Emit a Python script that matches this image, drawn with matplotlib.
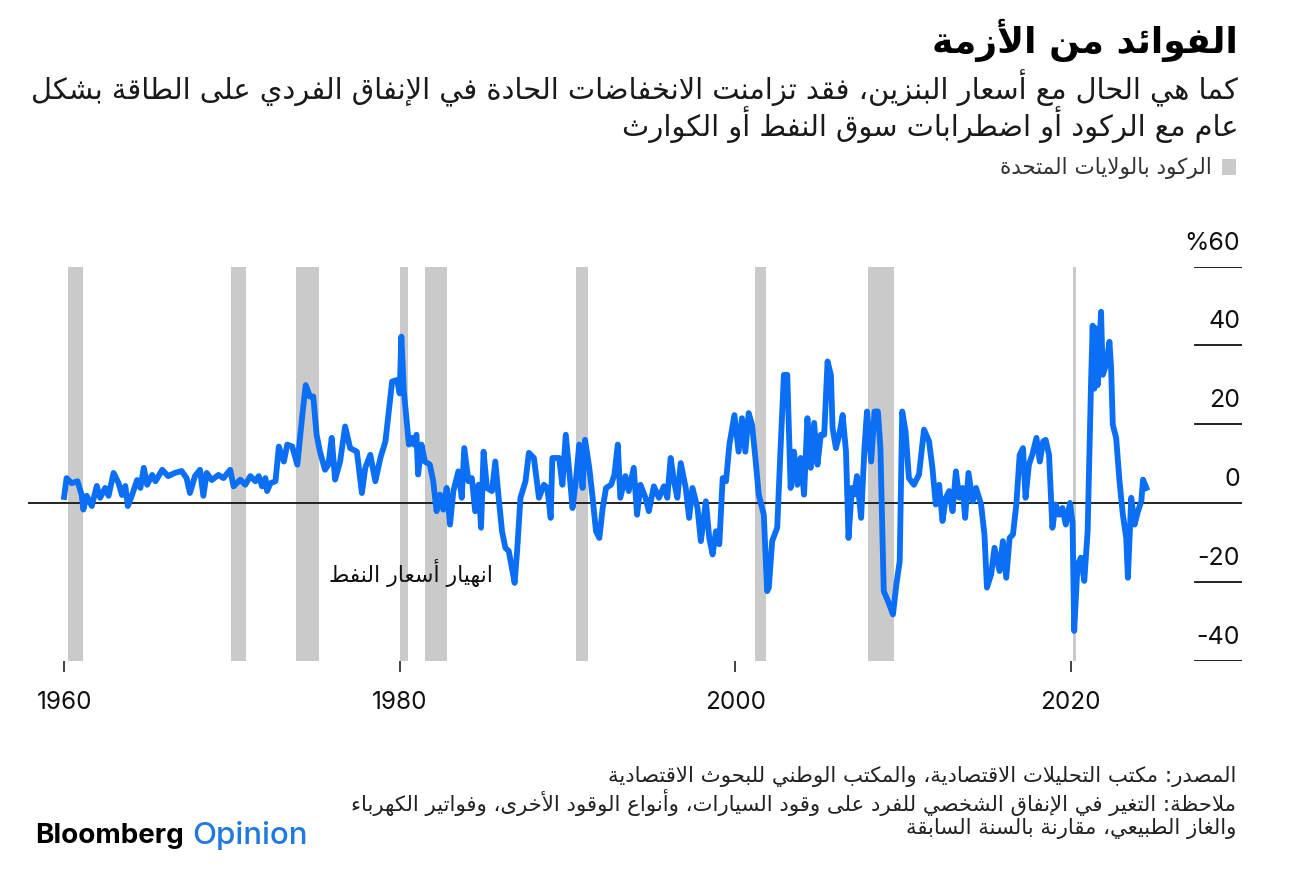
import matplotlib
matplotlib.use("Agg")
import matplotlib.pyplot as plt
from matplotlib.patches import Rectangle
import matplotlib.transforms as mtransforms

# --- minimal arabic shaping (presentation forms + right-to-left order) ---
FORMS = {
    'ء': (0xFE80, 1), 'آ': (0xFE81, 2), 'أ': (0xFE83, 2), 'ؤ': (0xFE85, 2), 'إ': (0xFE87, 2),
    'ئ': (0xFE89, 4), 'ا': (0xFE8D, 2), 'ب': (0xFE8F, 4), 'ة': (0xFE93, 2), 'ت': (0xFE95, 4),
    'ث': (0xFE99, 4), 'ج': (0xFE9D, 4), 'ح': (0xFEA1, 4), 'خ': (0xFEA5, 4), 'د': (0xFEA9, 2),
    'ذ': (0xFEAB, 2), 'ر': (0xFEAD, 2), 'ز': (0xFEAF, 2), 'س': (0xFEB1, 4), 'ش': (0xFEB5, 4),
    'ص': (0xFEB9, 4), 'ض': (0xFEBD, 4), 'ط': (0xFEC1, 4), 'ظ': (0xFEC5, 4), 'ع': (0xFEC9, 4),
    'غ': (0xFECD, 4), 'ف': (0xFED1, 4), 'ق': (0xFED5, 4), 'ك': (0xFED9, 4), 'ل': (0xFEDD, 4),
    'م': (0xFEE1, 4), 'ن': (0xFEE5, 4), 'ه': (0xFEE9, 4), 'و': (0xFEED, 2), 'ى': (0xFEEF, 2),
    'ي': (0xFEF1, 4),
    '\uFEF5': (0xFEF5, 2), '\uFEF7': (0xFEF7, 2), '\uFEF9': (0xFEF9, 2), '\uFEFB': (0xFEFB, 2),
}
LAM_ALEF = {'آ': '\uFEF5', 'أ': '\uFEF7', 'إ': '\uFEF9', 'ا': '\uFEFB'}


def ar(text):
    s = ''
    i = 0
    while i < len(text):
        if text[i] == 'ل' and i + 1 < len(text) and text[i + 1] in LAM_ALEF:
            s += LAM_ALEF[text[i + 1]]
            i += 2
        else:
            s += text[i]
            i += 1
    out = []
    for i, c in enumerate(s):
        if c not in FORMS:
            out.append(c)
            continue
        base, n = FORMS[c]
        prev = s[i - 1] if i > 0 else ''
        nxt = s[i + 1] if i + 1 < len(s) else ''
        join_prev = prev in FORMS and FORMS[prev][1] == 4
        join_next = n == 4 and nxt in FORMS and FORMS[nxt][1] > 1
        if n == 1:
            form = 0
        elif join_prev and join_next:
            form = 3
        elif join_next:
            form = 2
        elif join_prev:
            form = 1
        else:
            form = 0
        out.append(chr(base + form))
    return ''.join(reversed(out))


# --- data ---
years = [
    1960.0, 1960.15, 1960.45, 1960.8, 1961.05, 1961.15, 1961.35, 1961.65, 1961.95, 1962.15,
    1962.45, 1962.65, 1962.95, 1963.25, 1963.45, 1963.65, 1963.8, 1964.05, 1964.35, 1964.55,
    1964.75, 1964.95, 1965.25, 1965.45, 1965.85, 1966.2, 1966.6, 1967.0, 1967.3, 1967.5,
    1967.8, 1968.1, 1968.3, 1968.5, 1968.8, 1969.2, 1969.5, 1969.9, 1970.1, 1970.5,
    1970.8, 1971.1, 1971.4, 1971.6, 1971.8, 1972.0, 1972.1, 1972.3, 1972.6, 1972.8,
    1973.1, 1973.3, 1973.6, 1973.9, 1974.2, 1974.4, 1974.65, 1974.85, 1975.05, 1975.25,
    1975.55, 1975.75, 1975.95, 1976.15, 1976.45, 1976.75, 1977.05, 1977.45, 1977.75, 1977.95,
    1978.25, 1978.55, 1978.85, 1979.15, 1979.55, 1979.85, 1980.0, 1980.1, 1980.25, 1980.55,
    1980.75, 1980.85, 1981.0, 1981.1, 1981.3, 1981.5, 1981.8, 1982.0, 1982.2, 1982.4,
    1982.6, 1982.8, 1983.0, 1983.2, 1983.5, 1983.7, 1983.85, 1984.1, 1984.3, 1984.5,
    1984.7, 1984.85, 1985.0, 1985.2, 1985.5, 1985.7, 1985.9, 1986.1, 1986.3, 1986.5,
    1986.65, 1986.85, 1987.0, 1987.2, 1987.5, 1987.7, 1988.0, 1988.3, 1988.6, 1988.8,
    1989.0, 1989.1, 1989.5, 1989.7, 1989.9, 1990.2, 1990.3, 1990.5, 1990.7, 1990.9,
    1991.05, 1991.3, 1991.5, 1991.7, 1991.9, 1992.1, 1992.3, 1992.6, 1992.8, 1993.0,
    1993.15, 1993.45, 1993.65, 1993.95, 1994.15, 1994.35, 1994.65, 1994.85, 1995.15, 1995.45,
    1995.75, 1995.95, 1996.15, 1996.35, 1996.55, 1996.75, 1997.05, 1997.25, 1997.45, 1997.75,
    1997.95, 1998.25, 1998.45, 1998.65, 1998.85, 1999.05, 1999.25, 1999.45, 1999.65, 1999.95,
    2000.2, 2000.4, 2000.6, 2000.8, 2001.0, 2001.2, 2001.4, 2001.7, 2001.9, 2002.0,
    2002.2, 2002.5, 2002.7, 2002.9, 2003.1, 2003.3, 2003.5, 2003.7, 2003.9, 2004.1,
    2004.3, 2004.5, 2004.7, 2004.9, 2005.1, 2005.3, 2005.5, 2005.7, 2005.8, 2006.0,
    2006.2, 2006.4, 2006.6, 2006.75, 2006.95, 2007.1, 2007.25, 2007.5, 2007.7, 2007.85,
    2008.1, 2008.3, 2008.5, 2008.65, 2008.85, 2009.1, 2009.4, 2009.6, 2009.8, 2009.95,
    2010.15, 2010.35, 2010.65, 2010.95, 2011.25, 2011.55, 2011.75, 2011.95, 2012.15, 2012.35,
    2012.55, 2012.75, 2012.95, 2013.15, 2013.35, 2013.55, 2013.7, 2013.9, 2014.15, 2014.35,
    2014.65, 2014.85, 2015.0, 2015.25, 2015.45, 2015.75, 2015.95, 2016.15, 2016.35, 2016.55,
    2016.75, 2016.95, 2017.15, 2017.3, 2017.5, 2017.7, 2017.95, 2018.15, 2018.35, 2018.5,
    2018.7, 2018.9, 2019.1, 2019.3, 2019.5, 2019.7, 2019.95, 2020.1, 2020.2, 2020.4,
    2020.6, 2020.8, 2021.0, 2021.2, 2021.3, 2021.4, 2021.5, 2021.6, 2021.8, 2021.9,
    2022.1, 2022.3, 2022.4, 2022.5, 2022.7, 2022.9, 2023.1, 2023.3, 2023.4, 2023.6,
    2023.8, 2024.0, 2024.2, 2024.3, 2024.5,
]
spending_change = [
    1.5, 6.3, 5, 5.5, 2, -1.7, 1.8, -0.8, 4.3, 1.3,
    3.8, 1.8, 7.6, 5, 2, 4.3, -0.8, 2, 5.8, 3.8,
    8.9, 4.6, 7.1, 5.5, 8.4, 6.8, 7.6, 8.1, 6.3, 2.5,
    6.8, 8.4, 1.8, 7.6, 5.8, 7.1, 6.3, 8.4, 4.2, 5.9,
    4.6, 6.8, 5.5, 6.8, 4.2, 6.3, 3, 5, 5.5, 14.3,
    10.5, 14.8, 14.3, 9.7, 22.3, 29.9, 27, 27, 17.3, 13,
    8.4, 9.7, 16.5, 5.9, 10.5, 19.4, 13.9, 13, 2.5, 8.9,
    12.2, 5.5, 11.4, 15.6, 30.8, 31.2, 27.8, 42.2, 28.3, 14.8,
    16.5, 14.8, 17.3, 7.2, 14.8, 10.5, 9.7, 5.5, -2.1, 2.1,
    -1.7, 3.8, -5.5, 3, 8, 1.3, 13.9, 5.5, 6.3, -2.1,
    4.6, -6.3, 13, 3.8, 3, 10.5, 1.3, -7.2, -11.4, -12.2,
    -15.6, -20.3, -12.2, 1.3, 5.5, 12.7, 11.4, 1.3, 4.6, 3.8,
    -3.8, 11.4, 11.4, 4.6, 17.3, 3.8, -1.3, 5.5, 14.8, 3.8,
    16, 8.9, 1.3, -7.2, -8.9, -1.3, 3.8, 4.6, 7.2, 14.8,
    1.3, 6.8, 3, 8.9, -3, 4.6, 1.3, -2.1, 4.2, 1.3,
    4.2, 1.3, 11.4, 5.5, 1.3, 10.1, 3.8, -3.8, 3.8, -1.3,
    -9.7, 0.4, -8.9, -13.1, -7.2, -10.5, 6.3, 5.5, 14.8, 22.3,
    13, 21.5, 13, 22.8, 19.8, 11.4, 2.1, -3, -22.4, -21.5,
    -9.7, -6.3, 13.9, 32.5, 32.5, 3.8, 13, 4.6, 11.4, 2.1,
    21.5, 8.9, 20.3, 9.7, 17.3, 17.3, 35.9, 32.5, 19, 13.9,
    17.3, 22.3, 13, -8.9, 3.8, 2.1, 6.8, -3.8, 13.9, 23.2,
    10.5, 23.2, 23.2, 13.9, -22.4, -24.9, -28.3, -20.7, -14.8, 23.2,
    18.1, 6.3, 4.6, 7.2, 18.6, 15.6, 8.9, -0.4, 4.6, -4.6,
    1.3, 3, -2.1, 8, 1.3, 3.8, -3.8, 7.6, 0.4, 3.8,
    -0.4, -8, -21.5, -18.1, -11.4, -17.3, -9.7, -19, -8.9, -8,
    -0.4, 12.2, 13.9, 1.3, 9.7, 12.2, 16.5, 10.5, 15.6, 16,
    12.2, -6.3, -0.4, -3, -1.3, -5.5, 0, -5, -32.5, -15.6,
    -13.9, -19.8, -7.2, 29.9, 45, 29, 44.3, 29.9, 48.5, 32.5,
    35, 40.9, 34.2, 19.8, 16.5, 5.5, -3, -8.9, -19, 1.3,
    -5.5, -2.1, 0.4, 5.9, 3.8,
]
rec_start = [1960.25, 1969.95, 1973.8, 1980.0, 1981.5, 1990.5, 2001.2, 2007.9, 2020.1]
rec_end = [1961.1, 1970.85, 1975.2, 1980.5, 1982.85, 1991.2, 2001.85, 2009.45, 2020.3]
y_ticks = [60, 40, 20, 0, -20, -40]
y_labels = ['%60', '40', '20', '0', '-20', '-40']
x_ticks = [1960, 1980, 2000, 2020]

title = 'الفوائد من الأزمة'
subtitle = ['كما هي الحال مع أسعار البنزين، فقد تزامنت الانخفاضات الحادة في الإنفاق الفردي على الطاقة بشكل',
            'عام مع الركود أو اضطرابات سوق النفط أو الكوارث']
legend_label = 'الركود بالولايات المتحدة'
note_oil = 'انهيار أسعار النفط'
footer = ['المصدر: مكتب التحليلات الاقتصادية، والمكتب الوطني للبحوث الاقتصادية',
          'ملاحظة: التغير في الإنفاق الشخصي للفرد على وقود السيارات، وأنواع الوقود الأخرى، وفواتير الكهرباء',
          'والغاز الطبيعي، مقارنة بالسنة السابقة']

BLUE = '#0a6ff5'
GREY = '#cacaca'
AR = ['DejaVu Sans']
NUM = ['Inter', 'DejaVu Sans']

W, H = 1296, 870
fig = plt.figure(figsize=(W / 100, H / 100), dpi=100)
fig.patch.set_facecolor('white')


def fx(px):
    return px / W


def fy(py):
    return 1 - py / H


ax = fig.add_axes([fx(28), fy(661.5), fx(1242) - fx(28), fy(267.5) - fy(661.5)])
ax.set_xlim(1957.85, 2030.2)
ax.set_ylim(-40, 60)

for s, e in zip(rec_start, rec_end):
    ax.axvspan(s, e, color=GREY, lw=0, zorder=1)

ax.axhline(0, color='#222222', lw=1.4, zorder=2)
for v in y_ticks:
    if v != 0:
        ax.axhline(v, xmin=(1195 - 28) / (1242 - 28), xmax=1.0, color='#111111', lw=1.3, zorder=2)

ax.plot(years, spending_change, color=BLUE, lw=4.2, solid_joinstyle='round', zorder=3)

trans = mtransforms.blended_transform_factory(ax.transAxes, ax.transData)
off = mtransforms.ScaledTranslation(0, 0.18, fig.dpi_scale_trans)
for v, lab in zip(y_ticks, y_labels):
    ax.text(0.9985, v, lab, transform=trans + off, ha='right', va='baseline',
            fontsize=18, family=NUM, color='#111111')

for sp in ax.spines.values():
    sp.set_visible(False)
ax.set_yticks([])
ax.set_xticks(x_ticks)
ax.set_xticklabels([str(t) for t in x_ticks], fontsize=17.5, family=NUM, color='#111111')
ax.tick_params(axis='x', direction='out', length=8, width=1.3, pad=13, color='#333333')

# annotation sits just left of the 1986 trough
ax.text(1985.56, -17.5, ar(note_oil), ha='right', va='center', fontsize=15.8, family=AR, color='#111111')

fig.text(fx(1238), fy(40), ar(title), ha='right', va='center', fontsize=26, fontweight='bold', family=AR)
fig.text(fx(1238), fy(88), ar(subtitle[0]), ha='right', va='center', fontsize=20.8, family=AR, color='#1a1a1a')
fig.text(fx(1238), fy(125), ar(subtitle[1]), ha='right', va='center', fontsize=20.8, family=AR, color='#1a1a1a')

fig.patches.append(Rectangle((fx(1222), fy(176)), fx(14), 16 / H, transform=fig.transFigure,
                             facecolor=GREY, edgecolor='none'))
fig.text(fx(1212), fy(168), ar(legend_label), ha='right', va='center', fontsize=15.5, family=AR, color='#333333')

for i, line in enumerate(footer):
    fig.text(fx(1236), fy(777 + 26 * i), ar(line), ha='right', va='center', fontsize=15.3, family=AR, color='#222222')

fig.text(fx(35), fy(836), 'Bloomberg', ha='left', va='center', fontsize=20, fontweight='bold',
         family=['Inter', 'DejaVu Sans'], color='#000000')
fig.text(fx(192), fy(836), 'Opinion', ha='left', va='center', fontsize=22.5, fontweight='medium',
         family=['Inter', 'DejaVu Sans'], color='#1f7ae0')

fig.savefig('out.png', dpi=100)
